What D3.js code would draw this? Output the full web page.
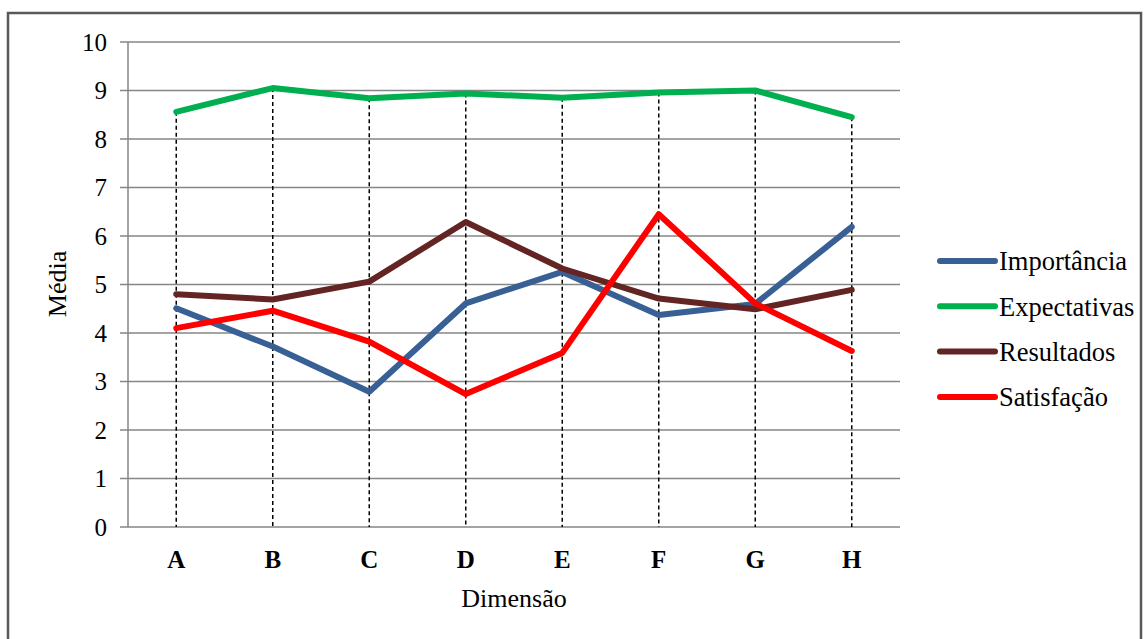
<!DOCTYPE html>
<html>
<head>
<meta charset="utf-8">
<script src="https://cdn.jsdelivr.net/npm/d3@7"></script>
<style>
  html, body { margin: 0; padding: 0; background: #fff; }
  #chart { width: 1148px; height: 639px; }
</style>
</head>
<body>
<div id="chart"></div>
<script>
// Médias por dimensão, quatro séries
var categories = ['A', 'B', 'C', 'D', 'E', 'F', 'G', 'H'];
var seriesNames = ['Importância', 'Expectativas', 'Resultados', 'Satisfação'];
var importancia  = [4.51, 3.72, 2.79, 4.61, 5.26, 4.37, 4.60, 6.19];
var expectativas = [8.56, 9.05, 8.84, 8.94, 8.85, 8.96, 9.00, 8.45];
var resultados   = [4.80, 4.69, 5.06, 6.29, 5.33, 4.71, 4.49, 4.89];
var satisfacao   = [4.10, 4.46, 3.82, 2.74, 3.59, 6.45, 4.61, 3.63];
var yTicks = [0, 1, 2, 3, 4, 5, 6, 7, 8, 9, 10];

(function () {
    var W = 1148, H = 639;
    var margin = { top: 42, left: 128, right: 248, bottom: 112 };
    var innerW = W - margin.left - margin.right;
    var innerH = H - margin.top - margin.bottom;
    var FONT = "'Liberation Serif', 'DejaVu Serif', serif";

    var colors = ['#386095', '#00b050', '#632523', '#ff0000'];
    var data = [importancia, expectativas, resultados, satisfacao];

    var svg = d3.select('#chart').append('svg')
        .attr('width', W).attr('height', H)
        .style('font-family', FONT);

    // outer frame (bottom edge runs off the picture)
    svg.append('rect')
        .attr('x', 8).attr('y', 13)
        .attr('width', 1133).attr('height', 700)
        .attr('fill', 'none')
        .attr('stroke', '#595959').attr('stroke-width', 2.5);

    var g = svg.append('g')
        .attr('transform', 'translate(' + margin.left + ',' + margin.top + ')');

    var x = d3.scaleBand().domain(categories).range([0, innerW]);
    var y = d3.scaleLinear().domain([0, 10]).range([innerH, 0]);
    var cx = function (c) { return x(c) + x.bandwidth() / 2; };

    // horizontal gridlines
    g.selectAll('line.grid').data(yTicks).enter().append('line')
        .attr('class', 'grid')
        .attr('x1', -8).attr('x2', innerW)
        .attr('y1', function (d) { return y(d); })
        .attr('y2', function (d) { return y(d); })
        .attr('stroke', '#868686').attr('stroke-width', 1.5);

    // y axis line
    g.append('line')
        .attr('x1', 0).attr('x2', 0).attr('y1', 0).attr('y2', innerH)
        .attr('stroke', '#868686').attr('stroke-width', 1.5);

    // y tick labels
    g.selectAll('text.yt').data(yTicks).enter().append('text')
        .attr('class', 'yt')
        .attr('x', -21)
        .attr('y', function (d) { return y(d); })
        .attr('dy', '0.35em')
        .attr('text-anchor', 'end')
        .style('font-size', '25px')
        .text(function (d) { return d; });

    // drop lines from the highest point down to the axis
    g.selectAll('line.drop').data(categories).enter().append('line')
        .attr('class', 'drop')
        .attr('x1', cx).attr('x2', cx)
        .attr('y1', function (c, i) {
            return y(d3.max(data, function (s) { return s[i]; }));
        })
        .attr('y2', innerH)
        .attr('stroke', '#000').attr('stroke-width', 1.5)
        .attr('stroke-dasharray', '4 3');

    // x category labels
    g.selectAll('text.xt').data(categories).enter().append('text')
        .attr('class', 'xt')
        .attr('x', cx)
        .attr('y', innerH + 41)
        .attr('text-anchor', 'middle')
        .style('font-size', '25px')
        .style('font-weight', 'bold')
        .text(function (d) { return d; });

    // series lines
    var line = d3.line()
        .x(function (d, i) { return cx(categories[i]); })
        .y(function (d) { return y(d); });

    data.forEach(function (s, k) {
        g.append('path')
            .datum(s)
            .attr('d', line)
            .attr('fill', 'none')
            .attr('stroke', colors[k])
            .attr('stroke-width', 6)
            .attr('stroke-linecap', 'round')
            .attr('stroke-linejoin', 'round');
    });

    // axis titles
    svg.append('text')
        .attr('x', margin.left + innerW / 2)
        .attr('y', 607)
        .attr('text-anchor', 'middle')
        .style('font-size', '26px')
        .text('Dimensão');
    svg.append('text')
        .attr('transform', 'translate(66,284) rotate(-90)')
        .attr('text-anchor', 'middle')
        .style('font-size', '26px')
        .text('Média');

    // legend
    var lg = svg.append('g').attr('transform', 'translate(940,261)');
    seriesNames.forEach(function (name, k) {
        var row = lg.append('g').attr('transform', 'translate(0,' + (k * 45.3) + ')');
        row.append('line')
            .attr('x1', 0).attr('x2', 55)
            .attr('stroke', colors[k]).attr('stroke-width', 6)
            .attr('stroke-linecap', 'round');
        row.append('text')
            .attr('x', 59).attr('dy', '0.35em')
            .style('font-size', '26.5px')
            .text(name);
    });
})();
</script>
</body>
</html>
